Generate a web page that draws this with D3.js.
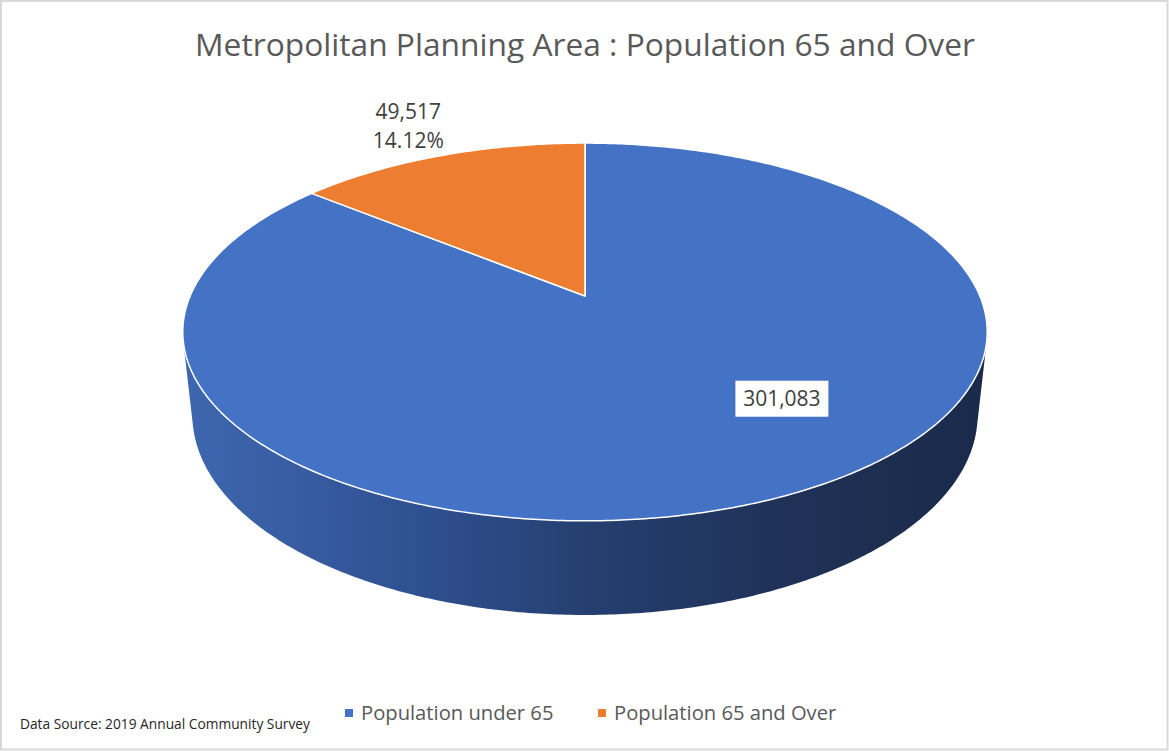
<!DOCTYPE html>
<html>
<head>
<meta charset="utf-8">
<script src="https://cdn.jsdelivr.net/npm/d3@7"></script>
<style>
  html, body { margin: 0; padding: 0; background: #fff; }
  svg { display: block; }
  text { font-family: "Open Sans", "Noto Sans", sans-serif; }
</style>
</head>
<body>
<svg id="chart" width="1169" height="751"></svg>
<script>
// ---- data ----
const categories = ["Population under 65", "Population 65 and Over"];
const values = [301083, 49517];
const colors = ["#4472C4", "#ED7D31"];
const valueLabels = ["301,083", "49,517"];
const percentLabels = ["85.88%", "14.12%"];
const title = "Metropolitan Planning Area : Population 65 and Over";
const sourceNote = "Data Source: 2019 Annual Community Survey";

const W = 1169, H = 751;
const svg = d3.select("#chart");

// chart frame
svg.append("rect")
  .attr("x", 1).attr("y", 1).attr("width", W - 2.5).attr("height", H - 2.5)
  .attr("fill", "#fff").attr("stroke", "#d9d9d9").attr("stroke-width", 2);

// title, sized to span its box
const titleText = svg.append("text")
  .attr("x", 585).attr("y", 56)
  .attr("text-anchor", "middle")
  .attr("fill", "#595959")
  .attr("font-size", 28)
  .text(title);
{
  const w = titleText.node().getComputedTextLength();
  titleText.attr("font-size", 28 * 780 / w);
}

// ---- 3D perspective projection of a disk (radius 1) ----
const cx = 585, cy = 296;        // screen position of pie centre
const sinA = 0.461, cosA = Math.sqrt(1 - sinA * sinA); // camera tilt
const D = 4.66;                  // camera distance (in radii)
const S = 1840;                  // screen scale
const T = 0.239;                 // pie thickness (in radii)

// u: right, v: away from viewer, y: height (0 top face, -T bottom)
function project(u, v, y) {
  const depth = D + v * cosA - y * sinA;
  const sy = y * cosA + v * sinA;
  return [cx + S * u / depth, cy - S * sy / depth];
}
// d3 pie angles: 0 at 12 o'clock, clockwise
const rim = (a, y, r = 1) => project(r * Math.sin(a), r * Math.cos(a), y);

const pie = d3.pie().sort(null).value(d => d)(values);
const line = d3.line();

function sampleArc(a0, a1, y) {
  const n = Math.max(2, Math.ceil(Math.abs(a1 - a0) / 0.01));
  return d3.range(n + 1).map(i => rim(a0 + (a1 - a0) * i / n, y));
}

// side wall gradient (lit from the left)
const defs = svg.append("defs");
const grad = defs.append("linearGradient")
  .attr("id", "sideGrad").attr("gradientUnits", "userSpaceOnUse")
  .attr("x1", 183).attr("x2", 988).attr("y1", 0).attr("y2", 0);
[[0, "#3e67b0"], [0.3, "#2f5090"], [0.5, "#253f70"], [0.75, "#1f3157"], [1, "#1a2a4a"]]
  .forEach(([o, c]) => grad.append("stop").attr("offset", o).attr("stop-color", c));

// visible part of the outer wall: where the wall normal faces the camera
const vLimit = -1 / (D * cosA);
const wallA0 = Math.acos(vLimit);
const wallA1 = 2 * Math.PI - wallA0;

const sideG = svg.append("g");
pie.forEach((p, i) => {
  const a0 = Math.max(p.startAngle, wallA0);
  const a1 = Math.min(p.endAngle, wallA1);
  if (a1 <= a0) return;
  const pts = sampleArc(a0, a1, 0).concat(sampleArc(a1, a0, -T));
  sideG.append("path")
    .attr("d", line(pts) + "Z")
    .attr("fill", i === 0 ? "url(#sideGrad)" : d3.color(colors[i]).darker(1.2));
});

// top faces
const topG = svg.append("g");
pie.forEach((p, i) => {
  const pts = [project(0, 0, 0)].concat(sampleArc(p.startAngle, p.endAngle, 0));
  topG.append("path")
    .attr("d", line(pts) + "Z")
    .attr("fill", colors[i])
    .attr("stroke", "#fff")
    .attr("stroke-width", 1.5)
    .attr("stroke-linejoin", "round");
});

// ---- data labels ----
const labelSize = 21;
// large slice: value inside, on a white box
{
  const p = pie[0];
  const mid = (p.startAngle + p.endAngle) / 2 - 0.28;
  const [lx, ly] = rim(mid, 0, 0.68);
  const g = svg.append("g");
  g.append("rect")
    .attr("x", lx - 46.5).attr("y", ly - 18)
    .attr("width", 93).attr("height", 36)
    .attr("fill", "#fff");
  g.append("text")
    .attr("x", lx).attr("y", ly + 7.5)
    .attr("text-anchor", "middle")
    .attr("font-size", labelSize)
    .attr("fill", "#404040")
    .text(valueLabels[0]);
}
// small slice: value and percent outside
{
  const p = pie[1];
  const mid = (p.startAngle + p.endAngle) / 2;
  const [lx, ly] = rim(mid, 0, 1.27);
  const t = svg.append("text")
    .attr("text-anchor", "middle")
    .attr("font-size", labelSize)
    .attr("fill", "#404040");
  t.append("tspan").attr("x", lx).attr("y", ly - 6).text(valueLabels[1]);
  t.append("tspan").attr("x", lx).attr("y", ly + 23).text(percentLabels[1]);
}

// ---- legend ----
const legendX = [345, 598];
const legend = svg.append("g");
categories.forEach((c, i) => {
  legend.append("rect")
    .attr("x", legendX[i]).attr("y", 709)
    .attr("width", 8).attr("height", 8)
    .attr("fill", colors[i]);
  legend.append("text")
    .attr("x", legendX[i] + 16).attr("y", 720)
    .attr("font-size", 20.2)
    .attr("fill", "#595959")
    .text(c);
});

// source note
const src = svg.append("text")
  .attr("x", 20).attr("y", 729)
  .attr("font-size", 13)
  .attr("fill", "#262626")
  .text(sourceNote);
{
  const w = src.node().getComputedTextLength();
  src.attr("font-size", 13 * Math.min(1.1, 290 / w));
}
</script>
</body>
</html>
